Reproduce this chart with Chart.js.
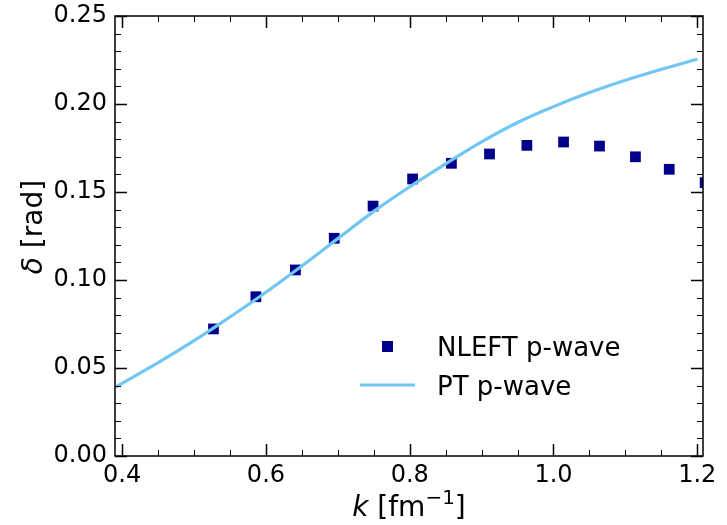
<!DOCTYPE html>
<html>
<head>
<meta charset="utf-8">
<script src="https://cdn.jsdelivr.net/npm/chart.js@4.4.0/dist/chart.umd.min.js"></script>
<style>
  html, body { margin: 0; padding: 0; background: #fff; }
</style>
</head>
<body>
<canvas id="phaseShift" width="727" height="525"></canvas>
<script>
// NLEFT lattice points (k in fm^-1, delta in rad)
const kNleft = [0.527, 0.586, 0.641, 0.695, 0.749, 0.804, 0.858, 0.911, 0.963, 1.014, 1.064, 1.114, 1.161, 1.211];
const deltaNleft = [0.0722, 0.0905, 0.1057, 0.1237, 0.1420, 0.1574, 0.1663, 0.1716, 0.1765, 0.1784, 0.1761, 0.1700, 0.1629, 0.1553];

// perturbative curve
const kPt = [0.39, 0.45, 0.50, 0.55, 0.60, 0.65, 0.70, 0.75, 0.80, 0.85, 0.90, 0.95, 1.00, 1.05, 1.10, 1.15, 1.20];
const deltaPt = [0.039, 0.0530, 0.0655, 0.0790, 0.0930, 0.1080, 0.1235, 0.1390, 0.1530, 0.1660, 0.1785, 0.1895, 0.1985, 0.2065, 0.2135, 0.2197, 0.2254];

const xTicks = [0.4, 0.6, 0.8, 1.0, 1.2];
const yTicks = [0.00, 0.05, 0.10, 0.15, 0.20, 0.25];

const FONT = "'DejaVu Sans', sans-serif";
const NAVY = "#00008b";
const SKY = "#72c6f3";

function toPoints(xs, ys) {
    return xs.map((x, i) => ({ x: x, y: ys[i] }));
}

// frame, inward ticks on all sides, axis titles and legend
const decorations = {
    id: "decorations",
    afterDraw(chart) {
        const ctx = chart.ctx;
        const ca = chart.chartArea;
        const xs = chart.scales.x, ys = chart.scales.y;
        ctx.save();
        ctx.strokeStyle = "#000";

        function xTick(v, len, w) {
            const px = Math.round(xs.getPixelForValue(v)) + 0.5;
            ctx.lineWidth = w;
            ctx.beginPath();
            ctx.moveTo(px, ca.bottom); ctx.lineTo(px, ca.bottom - len);
            ctx.moveTo(px, ca.top); ctx.lineTo(px, ca.top + len);
            ctx.stroke();
        }
        function yTick(v, len, w) {
            const py = Math.round(ys.getPixelForValue(v)) + 0.5;
            ctx.lineWidth = w;
            ctx.beginPath();
            ctx.moveTo(ca.left, py); ctx.lineTo(ca.left + len, py);
            ctx.moveTo(ca.right, py); ctx.lineTo(ca.right - len, py);
            ctx.stroke();
        }
        for (let i = 0; i <= 16; i++) {
            const v = 0.4 + i * 0.05;
            if (i % 4 === 0) xTick(v, 12, 1.5); else xTick(v, 6, 1);
        }
        for (let i = 0; i <= 25; i++) {
            const v = i * 0.01;
            if (i % 5 === 0) yTick(v, 12, 1.5); else yTick(v, 6, 1);
        }

        ctx.lineWidth = 1.5;
        ctx.strokeRect(ca.left, ca.top, ca.right - ca.left, ca.bottom - ca.top);

        // x title: k [fm^-1]
        ctx.fillStyle = "#000";
        ctx.textBaseline = "alphabetic";
        ctx.textAlign = "left";
        const big = "28px " + FONT, ital = "italic 28px " + FONT, sup = "20px " + FONT;
        const parts = [
            { t: "k", f: ital, dy: 0 },
            { t: " [fm", f: big, dy: 0 },
            { t: "\u22121", f: sup, dy: -12 },
            { t: "]", f: big, dy: 0 }
        ];
        let total = 0;
        parts.forEach(p => { ctx.font = p.f; p.w = ctx.measureText(p.t).width; total += p.w; });
        let cx = (ca.left + ca.right) / 2 - total / 2;
        parts.forEach(p => { ctx.font = p.f; ctx.fillText(p.t, cx, 516 + p.dy); cx += p.w; });

        // y title: delta [rad]
        ctx.save();
        ctx.translate(42, 227);
        ctx.rotate(-Math.PI / 2);
        const yParts = [{ t: "\u03b4", f: ital }, { t: " [rad]", f: big }];
        let yTotal = 0;
        yParts.forEach(p => { ctx.font = p.f; p.w = ctx.measureText(p.t).width; yTotal += p.w; });
        let cy = -yTotal / 2;
        yParts.forEach(p => { ctx.font = p.f; ctx.fillText(p.t, cy, 0); cy += p.w; });
        ctx.restore();

        // legend
        const dsPts = chart.data.datasets[0], dsLine = chart.data.datasets[1];
        ctx.fillStyle = dsPts.backgroundColor;
        ctx.fillRect(382, 341, 11, 11);
        ctx.strokeStyle = dsLine.borderColor;
        ctx.lineWidth = 3;
        ctx.beginPath();
        ctx.moveTo(360, 385); ctx.lineTo(415, 385);
        ctx.stroke();
        ctx.fillStyle = "#000";
        ctx.font = "26px " + FONT;
        ctx.fillText(dsPts.label, 437, 356);
        ctx.fillText(dsLine.label, 437, 395);

        ctx.restore();
    }
};

function zeroPadding(scale) {
    scale.paddingLeft = 0; scale.paddingRight = 0;
    scale.paddingTop = 0; scale.paddingBottom = 0;
}

new Chart(document.getElementById("phaseShift"), {
    type: "scatter",
    data: {
        datasets: [
            {
                label: "NLEFT p-wave",
                data: toPoints(kNleft, deltaNleft),
                backgroundColor: NAVY,
                borderColor: NAVY,
                borderWidth: 0,
                pointStyle: "rect",
                pointRadius: 7.6,
                pointHoverRadius: 7.6,
                clip: 0,
                order: 1
            },
            {
                label: "PT p-wave",
                data: toPoints(kPt, deltaPt),
                showLine: true,
                borderColor: SKY,
                backgroundColor: SKY,
                borderWidth: 3.2,
                pointRadius: 0,
                tension: 0.4,
                clip: 0,
                order: 0
            }
        ]
    },
    options: {
        responsive: false,
        animation: false,
        layout: { padding: { top: 16, right: 24, left: 0, bottom: 0 } },
        plugins: { legend: { display: false }, tooltip: { enabled: false } },
        scales: {
            x: {
                type: "linear",
                min: 0.39,
                max: 1.208,
                grid: { display: false, drawTicks: false },
                border: { display: false },
                ticks: {
                    color: "#000",
                    font: { family: FONT, size: 24 },
                    padding: 5,
                    maxRotation: 0,
                    callback: v => v.toFixed(1)
                },
                afterBuildTicks: scale => { scale.ticks = xTicks.map(v => ({ value: v })); },
                afterFit: scale => { scale.height = 69; zeroPadding(scale); }
            },
            y: {
                type: "linear",
                min: 0,
                max: 0.25,
                grid: { display: false, drawTicks: false },
                border: { display: false },
                ticks: {
                    color: "#000",
                    font: { family: FONT, size: 24 },
                    padding: 8,
                    callback: v => v.toFixed(2)
                },
                afterBuildTicks: scale => { scale.ticks = yTicks.map(v => ({ value: v })); },
                afterFit: scale => { scale.width = 115; zeroPadding(scale); }
            }
        }
    },
    plugins: [decorations]
});
</script>
</body>
</html>
